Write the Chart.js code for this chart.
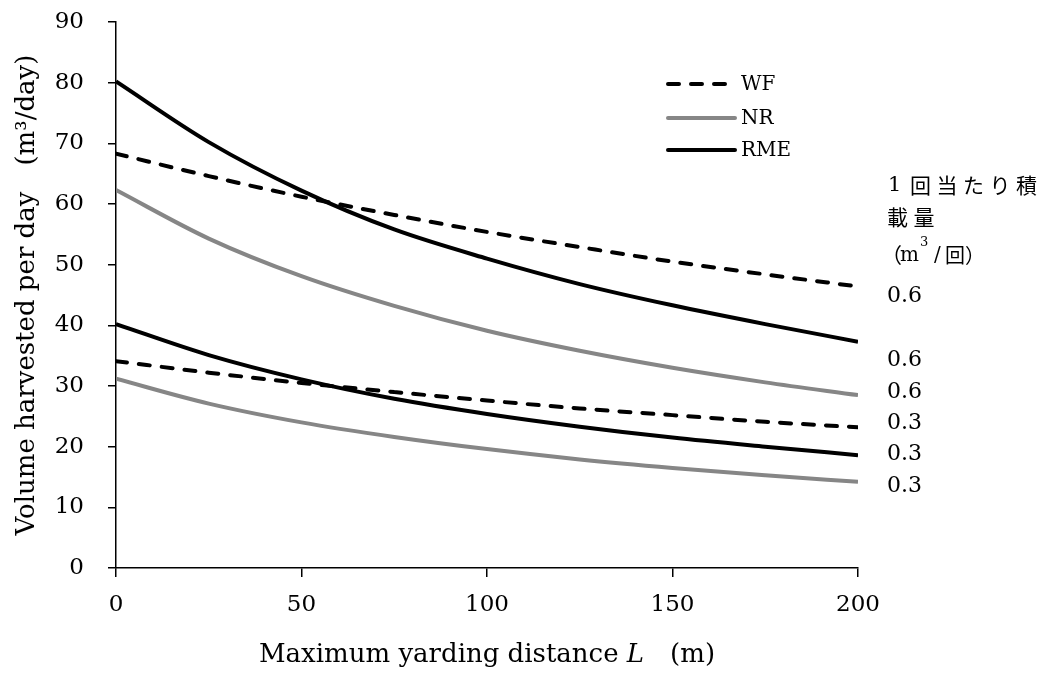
<!DOCTYPE html>
<html>
<head>
<meta charset="utf-8">
<script src="https://cdn.jsdelivr.net/npm/chart.js@4.4.1/dist/chart.umd.min.js"></script>
<style>
  html, body { margin: 0; padding: 0; background: #fff; }
  #wrap { width: 1047px; height: 687px; }
</style>
</head>
<body>
<div id="wrap"><canvas id="myChart"></canvas></div>
<script>
// yarding distance L (m)
const distances = [0, 25, 50, 75, 100, 125, 150, 175, 200];

// volume harvested per day (m3/day)
const wf06  = [68.3, 64.6, 61.2, 58.2, 55.4, 52.9, 50.5, 48.4, 46.4];
const nr06  = [62.3, 54.3, 48.1, 43.2, 39.1, 35.8, 33.0, 30.6, 28.5];
const rme06 = [80.2, 70.2, 62.2, 55.8, 51.0, 46.8, 43.3, 40.2, 37.3];
const wf03  = [34.1, 32.2, 30.5, 29.0, 27.6, 26.3, 25.2, 24.1, 23.2];
const nr03  = [31.2, 27.1, 24.0, 21.6, 19.6, 17.9, 16.5, 15.3, 14.2];
const rme03 = [40.2, 35.1, 31.1, 27.9, 25.4, 23.3, 21.5, 20.0, 18.6];

const legendNames = ['WF', 'NR', 'RME'];
const loadLabels = ['0.6', '0.6', '0.6', '0.3', '0.3', '0.3'];

const BLACK = '#000000';
const GREY = '#868686';
const serif = '"DejaVu Serif", "Liberation Serif", serif';
const cjk = '"Noto Sans CJK JP", sans-serif';

function pts(vals) {
    return distances.map((d, i) => ({ x: d, y: vals[i] }));
}

function line(label, vals, color, dashed) {
    return {
        label: label,
        data: pts(vals),
        borderColor: color,
        backgroundColor: color,
        borderWidth: 4,
        borderDash: dashed ? [11, 12] : [],
        borderCapStyle: dashed ? 'round' : 'butt',
        pointRadius: 0,
        cubicInterpolationMode: 'monotone',
        fill: false
    };
}

const data = {
    datasets: [
        line('WF', wf06, BLACK, true),
        line('NR', nr06, GREY, false),
        line('RME', rme06, BLACK, false),
        line('WF', wf03, BLACK, true),
        line('NR', nr03, GREY, false),
        line('RME', rme03, BLACK, false)
    ]
};

// draw CJK chars at a fixed pitch (the original uses a spaced mincho font)
function spaced(ctx, text, x, y, pitch) {
    for (const ch of text) {
        ctx.fillText(ch, x, y);
        x += pitch;
    }
    return x;
}

// legend, right side labels and x axis title
const extras = {
    id: 'extras',
    afterDraw(chart) {
        const ctx = chart.ctx;
        const area = chart.chartArea;
        ctx.save();

        // legend
        const ly = [84, 118, 150];
        for (let i = 0; i < 3; i++) {
            const ds = chart.data.datasets[i];
            ctx.beginPath();
            ctx.strokeStyle = ds.borderColor;
            ctx.lineWidth = 4;
            ctx.lineCap = 'round';
            ctx.setLineDash(ds.borderDash);
            ctx.moveTo(668, ly[i]);
            ctx.lineTo(ds.borderDash.length ? 725 : 735, ly[i]);
            ctx.stroke();
            ctx.setLineDash([]);
            ctx.fillStyle = '#000';
            ctx.font = '20px ' + serif;
            ctx.textBaseline = 'middle';
            ctx.textAlign = 'left';
            ctx.fillText(legendNames[i], 741, ly[i] + 1);
        }

        // load per trip labels
        ctx.fillStyle = '#000';
        ctx.textBaseline = 'middle';
        ctx.font = '21px ' + serif;
        ctx.fillText('1', 888, 186);
        ctx.font = '21px ' + cjk;
        spaced(ctx, '回当たり積', 910, 185, 26.5);
        spaced(ctx, '載量', 887, 217, 26.5);
        ctx.fillText('（', 881, 255);
        ctx.font = '20px ' + serif;
        ctx.fillText('m', 900, 256);
        ctx.font = '13px ' + serif;
        ctx.fillText('3', 920, 243);
        ctx.font = '20px ' + serif;
        ctx.fillText('/', 934, 256);
        ctx.font = '20px ' + cjk;
        ctx.fillText('回）', 945, 255);

        ctx.font = '22px ' + serif;
        const ry = [296, 360, 392, 423, 454, 486];
        loadLabels.forEach((t, i) => ctx.fillText(t, 887, ry[i]));

        // x axis title with italic L
        const p1 = 'Maximum yarding distance ';
        const p2 = 'L';
        const p3 = '\u3000(m)';
        const f = '26px ' + serif;
        ctx.font = f;
        const w1 = ctx.measureText(p1).width;
        const w3 = ctx.measureText(p3).width;
        ctx.font = 'italic ' + f;
        const w2 = ctx.measureText(p2).width;
        let x = (area.left + area.right) / 2 - (w1 + w2 + w3) / 2;
        const y = 655;
        ctx.font = f;
        ctx.fillText(p1, x, y);
        x += w1;
        ctx.font = 'italic ' + f;
        ctx.fillText(p2, x, y);
        x += w2;
        ctx.font = f;
        ctx.fillText(p3, x, y);

        ctx.restore();
    }
};

const config = {
    type: 'line',
    data: data,
    plugins: [extras],
    options: {
        responsive: true,
        maintainAspectRatio: false,
        animation: false,
        layout: { padding: { top: 22, right: 189, left: 0, bottom: 0 } },
        plugins: {
            legend: { display: false },
            tooltip: { enabled: false }
        },
        scales: {
            x: {
                type: 'linear',
                position: 'bottom',
                min: 0,
                max: 200,
                ticks: { stepSize: 50, color: '#000', padding: 14, font: { family: serif, size: 23 } },
                grid: { drawOnChartArea: false, drawTicks: true, tickLength: 9, color: '#000', lineWidth: 1.5 },
                border: { color: '#000', width: 1.5 },
                afterFit(scale) {
                    scale.height = 119;
                    scale.paddingLeft = 0;
                    scale.paddingRight = 0;
                }
            },
            y: {
                type: 'linear',
                min: 0,
                max: 90,
                ticks: { stepSize: 10, color: '#000', padding: 24, font: { family: serif, size: 23 } },
                grid: { drawOnChartArea: false, drawTicks: true, tickLength: 8, color: '#000', lineWidth: 1.5 },
                border: { color: '#000', width: 1.5 },
                title: {
                    display: true,
                    text: 'Volume harvested per day\u3000(m\u00b3/day)',
                    color: '#000',
                    font: { family: serif, size: 26 },
                    padding: { top: 12, bottom: 0 }
                },
                afterFit(scale) {
                    scale.width = 116;
                    scale.paddingTop = 0;
                    scale.paddingBottom = 0;
                }
            }
        }
    }
};

const ctx = document.getElementById('myChart').getContext('2d');
new Chart(ctx, config);
</script>
</body>
</html>
